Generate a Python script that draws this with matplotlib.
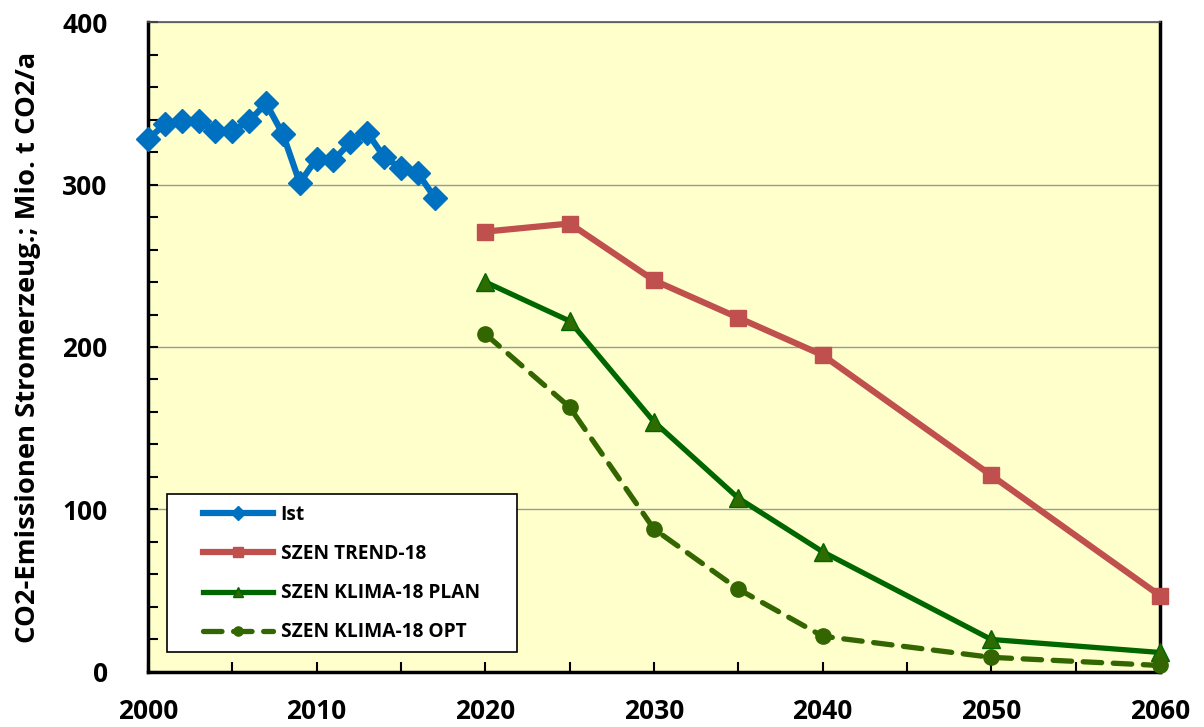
import matplotlib
matplotlib.use("Agg")
import matplotlib.pyplot as plt
from matplotlib.patches import Rectangle
from matplotlib.ticker import MultipleLocator

plt.rcParams["font.family"] = ["Open Sans", "DejaVu Sans"]
plt.rcParams["font.weight"] = "bold"

# Ist (historical)
ist_years = list(range(2000, 2018))
ist_vals = [328, 337, 339, 339, 333, 333, 339, 350, 331, 301, 316, 315,
            326, 332, 317, 310, 307, 292]

# Scenarios
scen_years = [2020, 2025, 2030, 2035, 2040, 2050, 2060]
trend_vals = [271, 276, 241, 218, 195, 121, 47]
plan_vals = [240, 216, 154, 107, 74, 20, 12]
opt_vals = [208, 163, 88, 51, 22, 9, 4]

fig = plt.figure(figsize=(12.04, 7.27), dpi=100)
ax = fig.add_axes([0.1229, 0.0757, 0.8405, 0.894])
ax.set_facecolor("#FFFFCC")

ax.plot(ist_years, ist_vals, color="#0070C0", lw=4.5, marker="D", ms=12,
        label="Ist", zorder=5, clip_on=False)
ax.plot(scen_years, trend_vals, color="#C0504D", lw=4.5, marker="s", ms=11,
        label="SZEN TREND-18", zorder=4, clip_on=False)
ax.plot(scen_years, plan_vals, color="#006600", lw=3.8, marker="^", ms=13,
        mfc="#2E6B00", mec="#006600", label="SZEN KLIMA-18 PLAN", zorder=4,
        clip_on=False)
ax.plot(scen_years, opt_vals, color="#336600", lw=3.8, ls=(0, (3.5, 2.2)),
        dash_capstyle="round", marker="o", ms=11, label="SZEN KLIMA-18 OPT",
        zorder=4, clip_on=False)

ax.set_xlim(2000, 2060)
ax.set_ylim(0, 400)
ax.xaxis.set_major_locator(MultipleLocator(10))
ax.xaxis.set_minor_locator(MultipleLocator(5))
ax.yaxis.set_major_locator(MultipleLocator(100))
ax.yaxis.set_minor_locator(MultipleLocator(20))
ax.tick_params(axis="both", which="both", direction="in", width=1.5,
               length=7, labelsize=19)
ax.tick_params(axis="x", which="major", pad=19)
ax.tick_params(axis="y", which="major", pad=29)
ax.tick_params(top=False, right=False, which="both")

ax.grid(axis="y", which="major", color="#999999", lw=1)
ax.set_axisbelow(True)

for s in ["left", "bottom", "right"]:
    ax.spines[s].set_linewidth(2.5)
    ax.spines[s].set_color("black")
ax.spines["top"].set_linewidth(1.2)
ax.spines["top"].set_color("#555555")

ax.set_ylabel("CO2-Emissionen Stromerzeug.; Mio. t CO2/a", fontsize=19.7,
              fontweight="bold")
ax.yaxis.set_label_coords(-0.106, 0.5)

# legend box drawn separately so the entries can sit indented like the original
box = Rectangle((0.0188, 0.031), 0.346, 0.243, transform=ax.transAxes,
                facecolor="white", edgecolor="black", lw=1.2, zorder=6)
ax.add_patch(box)
leg = ax.legend(loc="upper left", bbox_to_anchor=(0.0543, 0.257),
                frameon=False, fontsize=13.8, handlelength=3.65,
                handletextpad=0.4, labelspacing=1.0, borderpad=0,
                borderaxespad=0, markerscale=0.6)
leg.set_zorder(7)
for t in leg.get_texts():
    t.set_fontweight("bold")

fig.savefig("out.png", dpi=100)
